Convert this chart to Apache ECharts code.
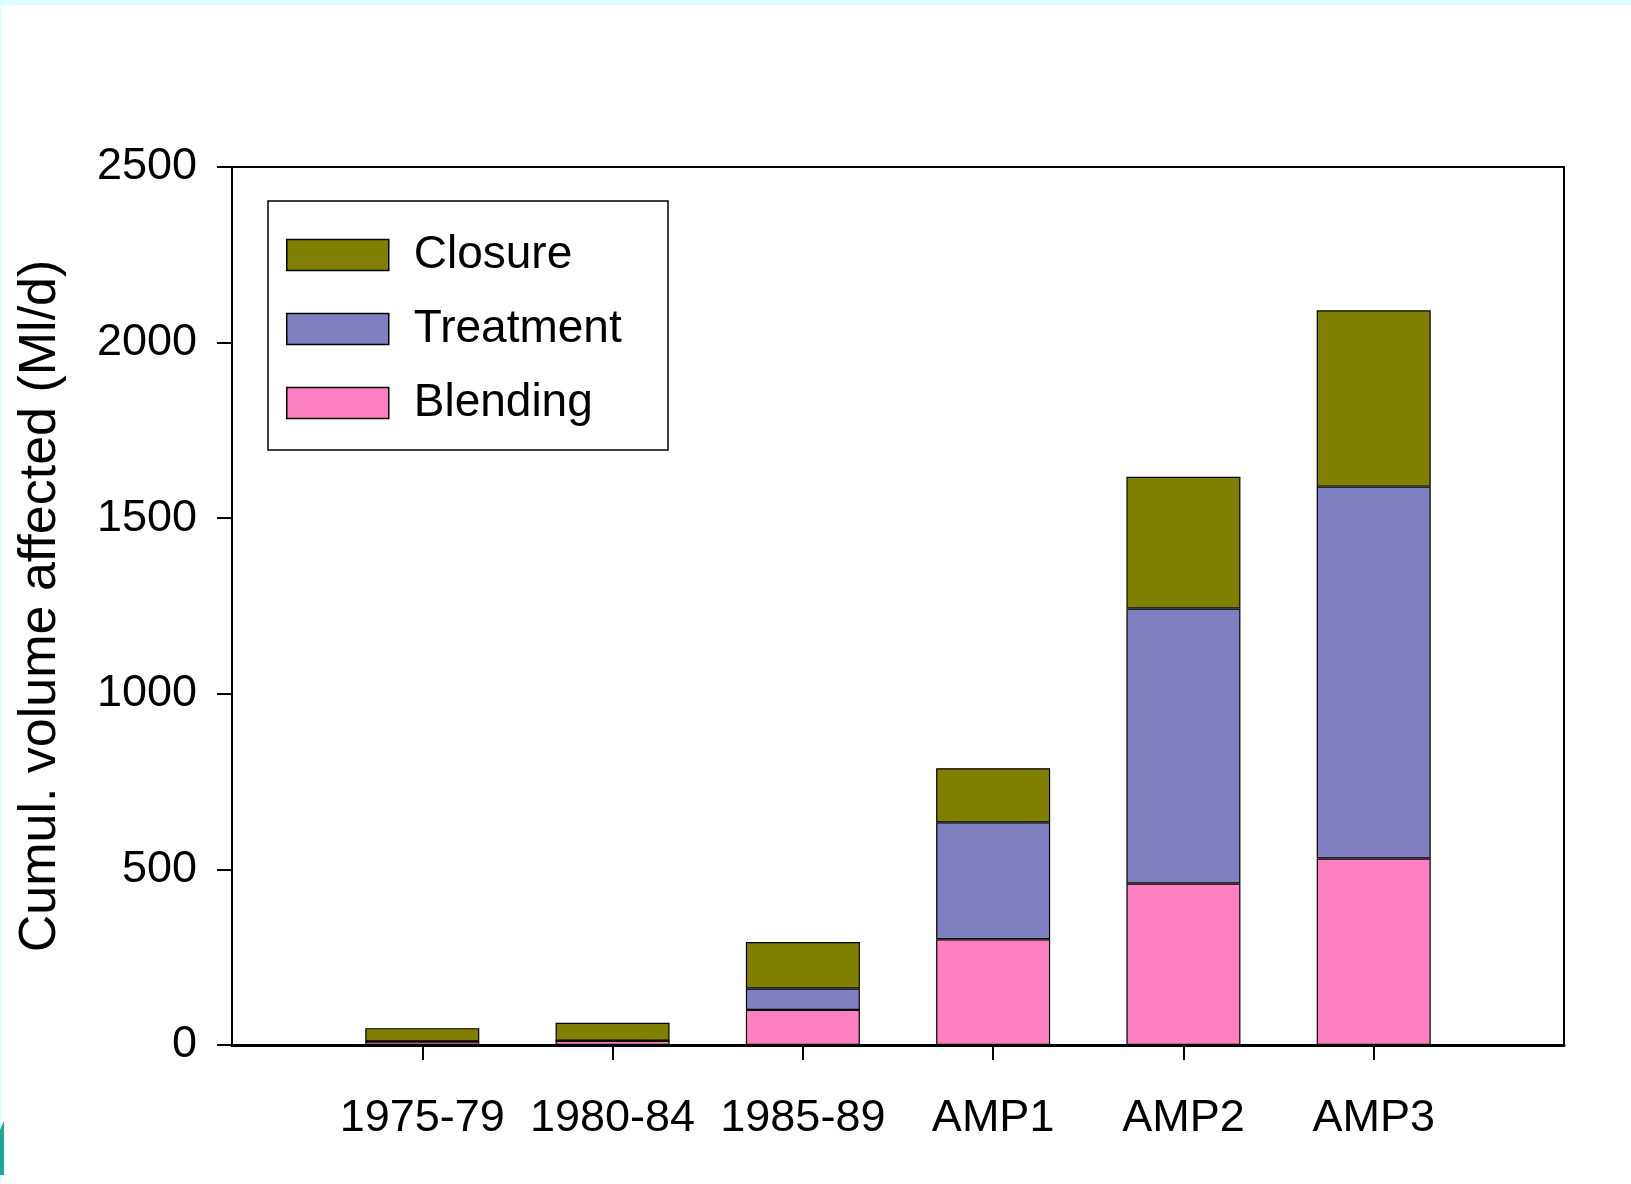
<!DOCTYPE html>
<html>
<head>
<meta charset="utf-8">
<script src="https://cdn.jsdelivr.net/npm/echarts@6/dist/echarts.min.js"></script>
<style>
html,body{margin:0;padding:0;background:#fff;}
#c{width:1631px;height:1184px;}
</style>
</head>
<body>
<div id="c"></div>
<script>
const categories = ['', '1975-79', '1980-84', '1985-89', 'AMP1', 'AMP2', 'AMP3', ''];
const blending  = [null, 10, 12, 100, 301, 460, 531, null];
const treatment = [null, 0, 0, 61, 333, 783, 1059, null];
const closure   = [null, 38, 51, 132, 154, 375, 502, null];
const yTicks = [0, 500, 1000, 1500, 2000, 2500];
const legendNames = ['Closure', 'Treatment', 'Blending'];

const REG = '"Liberation Sans", Arial, sans-serif';

const chart = echarts.init(document.getElementById('c'), null, {renderer: 'canvas'});
const barStyle = (c) => ({color: c, borderColor: '#000', borderWidth: 1.2});
const edge = (i) => i !== 0 && i !== categories.length - 1;

chart.setOption({
  animation: false,
  backgroundColor: '#fff',
  grid: {left: 232, right: 67, top: 167, bottom: 139, show: true, borderColor: '#000', borderWidth: 2, backgroundColor: 'transparent'},
  legend: {
    data: legendNames,
    orient: 'vertical',
    left: 286, top: 232,
    padding: 0,
    itemWidth: 102, itemHeight: 31, itemGap: 28,
    icon: 'rect',
    itemStyle: {borderColor: '#000', borderWidth: 1.5},
    textStyle: {fontFamily: REG, fontSize: 46, color: '#000', lineHeight: 46, padding: [0, 0, 0, 20]},
    selectedMode: false
  },
  graphic: [
    {type: 'rect', shape: {x: 268, y: 201, width: 400, height: 249}, style: {fill: 'none', stroke: '#000', lineWidth: 1.5}, z: 10},
    {type: 'rect', shape: {x: 0, y: 0, width: 1631, height: 5}, style: {fill: '#dcffff'}, z: 0},
    {type: 'rect', shape: {x: 0, y: 0, width: 1.5, height: 1184}, style: {fill: '#dcffff'}, z: 0},
    {type: 'polygon', shape: {points: [[0, 1175], [0, 1130], [4, 1121], [4, 1175]]}, style: {fill: '#1aa898'}, z: 1}
  ],
  xAxis: {
    type: 'category',
    data: categories,
    boundaryGap: false,
    axisLine: {show: true, lineStyle: {color: '#000', width: 3}},
    axisTick: {show: true, inside: false, length: 15, lineStyle: {color: '#000', width: 2}, interval: (i) => edge(i)},
    axisLabel: {interval: (i) => edge(i), margin: 51, fontFamily: REG, fontSize: 45, color: '#000', lineHeight: 45},
    splitLine: {show: false}
  },
  yAxis: {
    type: 'value',
    min: 0, max: 2500, interval: 500,
    name: 'Cumul. volume affected (Ml/d)',
    nameLocation: 'middle',
    nameGap: 165,
    nameTextStyle: {fontFamily: REG, fontSize: 52, color: '#000'},
    axisLine: {show: true, lineStyle: {color: '#000', width: 2}},
    axisTick: {show: true, inside: false, length: 15, lineStyle: {color: '#000', width: 2}},
    axisLabel: {margin: 35, fontFamily: REG, fontSize: 45, color: '#000', formatter: (v) => yTicks.includes(v) ? String(v) : ''},
    splitLine: {show: false}
  },
  series: [
    {name: 'Blending', type: 'bar', stack: 'total', data: blending, barWidth: 114, itemStyle: barStyle('#ff80c0')},
    {name: 'Treatment', type: 'bar', stack: 'total', data: treatment, barWidth: 114, itemStyle: barStyle('#8080c0')},
    {name: 'Closure', type: 'bar', stack: 'total', data: closure, barWidth: 114, itemStyle: barStyle('#808000')}
  ]
});
</script>
</body>
</html>
